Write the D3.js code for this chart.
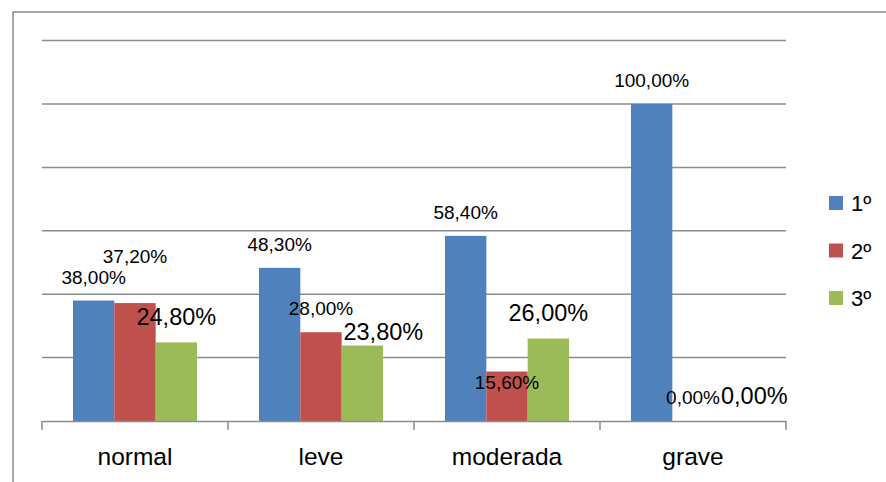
<!DOCTYPE html>
<html>
<head>
<meta charset="utf-8">
<script src="https://cdn.jsdelivr.net/npm/d3@7"></script>
<style>
  html, body { margin: 0; padding: 0; background: #fff; }
  svg { display: block; font-family: "Liberation Sans", Arial, sans-serif; }
</style>
</head>
<body>
<svg id="chart" width="886" height="482"></svg>
<script>
// Categories and series
const categories = ["normal", "leve", "moderada", "grave"];
const seriesNames = ["1º", "2º", "3º"];
const values1 = [38.0, 48.3, 58.4, 100.0];
const values2 = [37.2, 28.0, 15.6, 0.0];
const values3 = [24.8, 23.8, 26.0, 0.0];
const yTicks = [0, 20, 40, 60, 80, 100, 120];

const colors = ["#4F81BD", "#C0504D", "#9BBB59"];
// label text size per series/category ("s" small, "l" large)
const labelSize = [
  ["s", "s", "s", "s"],
  ["s", "s", "s", "s"],
  ["l", "l", "l", "l"]
];
// hand-placed label offsets [dx, dy] from the default spot above each bar
const labelNudge = [
  [[0, 0], [0, 0], [0, 0], [0, 0]],
  [[0, -23], [0, 0], [0, 34], [0, 0]],
  [[0, 0], [21, 11], [0, -1], [20, 0]]
];

const allValues = [values1, values2, values3];
const fmt = v => v.toFixed(2).replace(".", ",") + "%";

const svg = d3.select("#chart");

// outer frame
svg.append("rect")
  .attr("x", 13).attr("y", 12)
  .attr("width", 900).attr("height", 500)
  .attr("fill", "none")
  .attr("stroke", "#8a8a8a")
  .attr("stroke-width", 1.5);

const plot = { left: 42, right: 786, top: 40.6, bottom: 421 };

const y = d3.scaleLinear().domain([0, 120]).range([plot.bottom, plot.top]);
const x0 = d3.scaleBand().domain(categories).range([plot.left, plot.right]).padding(0);
const x1 = d3.scaleBand().domain(seriesNames).range([0, x0.bandwidth()])
  .paddingInner(0).paddingOuter(0.75);

// gridlines
svg.append("g")
  .selectAll("line")
  .data(yTicks.filter(t => t > 0))
  .join("line")
  .attr("x1", plot.left).attr("x2", plot.right)
  .attr("y1", d => y(d)).attr("y2", d => y(d))
  .attr("stroke", "#8c8c8c")
  .attr("stroke-width", 1.5);

// bars
const groups = svg.append("g")
  .selectAll("g")
  .data(seriesNames)
  .join("g")
  .attr("fill", (d, i) => colors[i]);

groups.selectAll("rect")
  .data((s, si) => categories.map((c, ci) => ({ s, si, c, ci, v: allValues[si][ci] })))
  .join("rect")
  .attr("x", d => x0(d.c) + x1(d.s))
  .attr("y", d => y(d.v))
  .attr("width", x1.bandwidth())
  .attr("height", d => y(0) - y(d.v));

// category axis
const xAxis = d3.axisBottom(x0).tickSize(0).tickPadding(0).tickFormat("");
const axisG = svg.append("g")
  .attr("transform", `translate(0,${plot.bottom})`)
  .call(xAxis);
axisG.select(".domain").attr("stroke", "#8c8c8c").attr("stroke-width", 1.5);
axisG.selectAll(".tick").remove();

// boundary tick marks between categories
const bounds = categories.map(c => x0(c)).concat([plot.right]);
axisG.selectAll("line.bound")
  .data(bounds)
  .join("line")
  .attr("class", "bound")
  .attr("x1", d => d).attr("x2", d => d)
  .attr("y1", 0).attr("y2", 9)
  .attr("stroke", "#8c8c8c")
  .attr("stroke-width", 1.5);

axisG.selectAll("text.cat")
  .data(categories)
  .join("text")
  .attr("class", "cat")
  .attr("x", d => x0(d) + x0.bandwidth() / 2)
  .attr("y", 43.5)
  .attr("text-anchor", "middle")
  .attr("font-size", 24.5)
  .attr("fill", "#000")
  .text(d => d);

// data labels
const labels = svg.append("g");
seriesNames.forEach((s, si) => {
  categories.forEach((c, ci) => {
    const v = allValues[si][ci];
    const [dx, dy] = labelNudge[si][ci];
    labels.append("text")
      .attr("x", x0(c) + x1(s) + x1.bandwidth() / 2 + dx)
      .attr("y", y(v) - 17 + dy)
      .attr("text-anchor", "middle")
      .attr("font-size", labelSize[si][ci] === "l" ? 23.5 : 19)
      .attr("fill", "#000")
      .text(fmt(v));
  });
});

// legend
const legend = svg.append("g")
  .selectAll("g")
  .data(seriesNames)
  .join("g")
  .attr("transform", (d, i) => `translate(829,${196 + i * 47.5})`);
legend.append("rect")
  .attr("width", 14).attr("height", 14)
  .attr("fill", (d, i) => colors[i]);
legend.append("text")
  .attr("x", 22).attr("y", 15)
  .attr("font-size", 22)
  .attr("fill", "#000")
  .text(d => d);
</script>
</body>
</html>
